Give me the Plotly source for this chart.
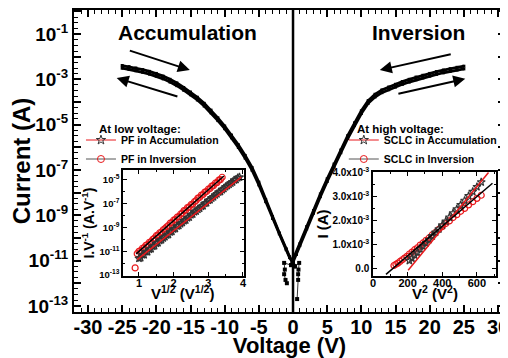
import plotly.graph_objects as go

FONT = "Liberation Sans, Arial, sans-serif"

# ---------------- main I-V data ----------------
v_left = [-25, -24, -23, -22, -21, -20, -19, -18, -17, -16, -15, -14, -13, -12, -11,
          -10, -9, -8, -7, -6, -5, -4, -3, -2, -1, -0.5, 0, 0.3]
i_left_up = [4.07e-3, 3.63e-3, 3.16e-3, 2.69e-3, 2.24e-3, 1.82e-3, 1.38e-3, 1.00e-3,
             6.92e-4, 4.37e-4, 2.75e-4, 1.62e-4, 8.71e-5, 4.37e-5, 2.00e-5, 8.71e-6,
             3.47e-6, 1.29e-6, 4.37e-7, 1.29e-7, 2.88e-8, 5.01e-9, 8.71e-10, 1.66e-10,
             3.31e-11, 1.48e-11, 8.3e-12, 5.6e-12]
i_left_down = [3.09e-3, 2.75e-3, 2.40e-3, 2.04e-3, 1.70e-3, 1.38e-3, 1.05e-3, 7.59e-4,
               5.25e-4, 3.31e-4, 2.09e-4, 1.23e-4, 6.61e-5, 3.31e-5, 1.51e-5, 6.61e-6,
               2.63e-6, 9.77e-7, 3.31e-7, 9.77e-8, 2.19e-8, 3.98e-9, 7.24e-10, 1.51e-10,
               3.02e-11, 1.35e-11, 7.6e-12, 5.2e-12]
v_right = [25, 24, 23, 22, 21, 20, 19, 18, 17, 16, 15, 14, 13, 12, 11,
           10, 9, 8, 7, 6, 5, 4, 3, 2, 1, 0.5, 0, -0.3]
i_right_up = [3.80e-3, 3.39e-3, 2.95e-3, 2.57e-3, 2.19e-3, 1.82e-3, 1.51e-3, 1.26e-3,
              1.00e-3, 7.94e-4, 6.03e-4, 4.57e-4, 3.39e-4, 2.19e-4, 1.15e-4, 4.07e-5,
              1.20e-5, 3.24e-6, 7.59e-7, 1.82e-7, 4.07e-8, 8.71e-9, 1.62e-9, 3.16e-10,
              5.5e-11, 2.14e-11, 9.3e-12, 6.6e-12]
i_right_down = [2.88e-3, 2.57e-3, 2.24e-3, 1.95e-3, 1.66e-3, 1.38e-3, 1.15e-3, 9.55e-4,
                7.59e-4, 6.03e-4, 4.57e-4, 3.47e-4, 2.57e-4, 1.66e-4, 8.71e-5, 3.09e-5,
                9.12e-6, 2.45e-6, 5.75e-7, 1.38e-7, 3.09e-8, 6.61e-9, 1.23e-9, 2.51e-10,
                4.57e-11, 1.86e-11, 8.5e-12, 6.0e-12]
v_tail_a = [0.3, 0.9, 0.8, 0.75, 0.75, 0.6]
i_tail_a = [5.6e-12, 7.9e-12, 4.0e-12, 2.5e-12, 1.4e-12, 2.0e-13]
v_tail_b = [-0.3, -1.3, -1.2, -1.3, -1.1, -0.9]
i_tail_b = [6.3e-12, 7.9e-12, 4.0e-12, 2.5e-12, 1.4e-12, 1.0e-12]

# ---------------- inset 1: Poole-Frenkel (I/V vs V^1/2) ----------------
pf_acc_x = [1.0, 1.1, 1.2, 1.3, 1.4, 1.5, 1.6, 1.7, 1.8, 1.9, 2.0, 2.1, 2.2, 2.3, 2.4,
            2.5, 2.6, 2.7, 2.8, 2.9, 3.0, 3.1, 3.2, 3.3, 3.4, 3.5, 3.6, 3.7, 3.8, 3.9]
pf_acc_y = [2.5e-12, 5.0e-12, 8.9e-12, 1.4e-11, 2.5e-11, 4.5e-11, 7.9e-11, 1.26e-10,
            2.24e-10, 3.98e-10, 7.08e-10, 1.26e-9, 2.0e-9, 3.55e-9, 6.31e-9, 1.12e-8,
            2.0e-8, 3.16e-8, 5.62e-8, 1.0e-7, 1.78e-7, 2.82e-7, 5.01e-7, 8.91e-7,
            1.41e-6, 2.51e-6, 3.98e-6, 6.31e-6, 1.0e-5, 1.58e-5]
pf_acc_x2 = [1.05, 1.15, 1.25, 1.35, 1.45, 1.55, 1.65, 1.75, 1.85, 1.95, 2.05, 2.15, 2.25,
             2.35, 2.45, 2.55, 2.65, 2.75, 2.85, 2.95, 3.05, 3.15, 3.25, 3.35, 3.45, 3.55,
             3.65, 3.75, 3.85]
pf_acc_y2 = [2.8e-12, 5.0e-12, 8.9e-12, 1.6e-11, 2.8e-11, 5.0e-11, 8.9e-11, 1.6e-10,
             2.5e-10, 4.5e-10, 7.9e-10, 1.4e-9, 2.5e-9, 4.0e-9, 7.1e-9, 1.26e-8, 2.24e-8,
             3.98e-8, 6.3e-8, 1.12e-7, 2.0e-7, 3.55e-7, 6.3e-7, 1.0e-6, 1.78e-6, 3.16e-6,
             5.0e-6, 8.9e-6, 1.41e-5]
pf_inv_x = [0.89, 0.95, 1.0, 1.1, 1.2, 1.3, 1.4, 1.5, 1.6, 1.7, 1.8, 1.9, 2.0, 2.1,
            2.2, 2.3, 2.4, 2.5, 2.6, 2.7, 2.8, 2.9, 3.0, 3.1, 3.2, 3.3, 3.4]
pf_inv_y = [4.0e-13, 6.3e-12, 1.0e-11, 1.78e-11, 3.16e-11, 5.62e-11, 1.0e-10, 2.0e-10,
            3.55e-10, 6.31e-10, 1.12e-9, 2.24e-9, 3.98e-9, 7.08e-9, 1.26e-8, 2.51e-8,
            4.47e-8, 7.94e-8, 1.41e-7, 2.82e-7, 5.01e-7, 8.91e-7, 1.58e-6, 2.82e-6,
            5.01e-6, 8.91e-6, 1.58e-5]
pf_inv_x2 = [1.05, 1.15, 1.25, 1.35, 1.45, 1.55, 1.65, 1.75, 1.85, 1.95, 2.05, 2.15, 2.25,
             2.35, 2.45, 2.55, 2.65, 2.75, 2.85, 2.95, 3.05, 3.15, 3.25, 3.35]
pf_inv_y2 = [1.12e-11, 2.0e-11, 3.55e-11, 6.3e-11, 1.26e-10, 2.24e-10, 3.98e-10, 7.9e-10,
             1.41e-9, 2.5e-9, 4.5e-9, 7.9e-9, 1.58e-8, 2.8e-8, 5.0e-8, 8.9e-8, 1.78e-7,
             3.16e-7, 5.6e-7, 1.0e-6, 1.78e-6, 3.16e-6, 5.6e-6, 1.0e-5]
pf_acc_fit_x = [0.95, 3.95]
pf_acc_fit_y = [2.0e-12, 1.6e-5]
pf_inv_fit_x = [0.92, 3.45]
pf_inv_fit_y = [6.0e-12, 2.0e-5]

# ---------------- inset 2: SCLC (I vs V^2) ----------------
sclc_acc_x = [225, 256, 289, 324, 361, 400, 441, 484, 529, 576, 625]
sclc_acc_y = [0.42e-3, 0.66e-3, 0.92e-3, 1.2e-3, 1.5e-3, 1.8e-3, 2.13e-3, 2.47e-3,
              2.83e-3, 3.2e-3, 3.6e-3]
sclc_acc_x2 = [210.25, 240.25, 272.25, 306.25, 342.25, 380.25, 420.25, 462.25, 506.25,
               552.25, 600.25]
sclc_acc_y2 = [0.32e-3, 0.55e-3, 0.8e-3, 1.06e-3, 1.35e-3, 1.64e-3, 1.96e-3, 2.3e-3,
               2.65e-3, 3.02e-3, 3.4e-3]
sclc_inv_x = [121, 144, 169, 196, 225, 256, 289, 324, 361, 400, 441, 484, 529, 576, 625]
sclc_inv_y = [0.12e-3, 0.22e-3, 0.36e-3, 0.5e-3, 0.68e-3, 0.86e-3, 1.06e-3, 1.27e-3,
              1.5e-3, 1.74e-3, 1.98e-3, 2.24e-3, 2.5e-3, 2.78e-3, 3.05e-3]
sclc_inv_x2 = [132.25, 156.25, 182.25, 210.25, 240.25, 272.25, 306.25, 342.25, 380.25,
               420.25, 462.25, 506.25, 552.25, 600.25]
sclc_inv_y2 = [0.17e-3, 0.29e-3, 0.43e-3, 0.6e-3, 0.78e-3, 0.97e-3, 1.17e-3, 1.4e-3,
               1.63e-3, 1.87e-3, 2.12e-3, 2.38e-3, 2.65e-3, 2.92e-3]
sclc_acc_fit_x = [203, 667]
sclc_acc_fit_y = [-0.08e-3, 4.0e-3]
sclc_inv_fit_x = [75, 690]
sclc_inv_fit_y = [-0.25e-3, 3.55e-3]

# ---------------- tick labels ----------------
x_tickvals = [-30, -25, -20, -15, -10, -5, 0, 5, 10, 15, 20, 25, 30]
x_ticktext = ["-30", "-25", "-20", "-15", "-10", "-5", "0", "5", "10", "15", "20", "25", "30"]
y_exps = list(range(-13, 1))
y_ticktext = [("10<sup>%d</sup>" % e) if e % 2 else "" for e in y_exps]
in1_x_ticks = [1, 2, 3, 4]
in1_y_exps = [-13, -11, -9, -7, -5]
in2_x_ticks = [0, 200, 400, 600]
in2_y_ticks = [0, 1e-3, 2e-3, 3e-3, 4e-3]
in2_y_text = ["0.0", "1.0x10<sup>-3</sup>", "2.0x10<sup>-3</sup>", "3.0x10<sup>-3</sup>",
              "4.0x10<sup>-3</sup>"]

RED = "#e8191c"
DARK = "#333333"

fig = go.Figure()
mk = dict(symbol="square", size=3, color="black")
for vx, iy in [(v_left, i_left_up), (v_left, i_left_down),
               (v_right, i_right_up), (v_right, i_right_down)]:
    fig.add_trace(go.Scatter(x=vx, y=iy, mode="lines+markers", marker=mk,
                             line=dict(color="black", width=2.8), showlegend=False))
for vx, iy in [(v_tail_a, i_tail_a), (v_tail_b, i_tail_b)]:
    fig.add_trace(go.Scatter(x=vx, y=iy, mode="lines+markers",
                             marker=dict(symbol="square", size=4, color="black"),
                             line=dict(color="black", width=0.8), showlegend=False))

circ = dict(symbol="circle-open", size=6, color=RED, line=dict(width=1.2))
star = dict(symbol="star-open", size=6, color=DARK, line=dict(width=1.2))

# inset 1
for xs, ys in [(pf_inv_x, pf_inv_y), (pf_inv_x2, pf_inv_y2)]:
    fig.add_trace(go.Scatter(x=xs, y=ys, mode="markers", xaxis="x2", yaxis="y2",
                             marker=circ, showlegend=False))
for xs, ys in [(pf_acc_x, pf_acc_y), (pf_acc_x2, pf_acc_y2)]:
    fig.add_trace(go.Scatter(x=xs, y=ys, mode="markers", xaxis="x2", yaxis="y2",
                             marker=star, showlegend=False))
fig.add_trace(go.Scatter(x=pf_acc_fit_x, y=pf_acc_fit_y, mode="lines", xaxis="x2", yaxis="y2",
                         line=dict(color=RED, width=1.5), showlegend=False))
fig.add_trace(go.Scatter(x=pf_inv_fit_x, y=pf_inv_fit_y, mode="lines", xaxis="x2", yaxis="y2",
                         line=dict(color="black", width=1.5), showlegend=False))
fig.add_trace(go.Scatter(x=[None], y=[None], mode="lines+markers", name="PF in Accumulation",
                         xaxis="x2", yaxis="y2", legend="legend",
                         line=dict(color=RED, width=1),
                         marker=dict(symbol="star-open", size=7, color=DARK)))
fig.add_trace(go.Scatter(x=[None], y=[None], mode="lines+markers", name="PF in Inversion",
                         xaxis="x2", yaxis="y2", legend="legend",
                         line=dict(color="#555555", width=1),
                         marker=dict(symbol="circle-open", size=7, color=RED)))

# inset 2
for xs, ys in [(sclc_inv_x, sclc_inv_y), (sclc_inv_x2, sclc_inv_y2)]:
    fig.add_trace(go.Scatter(x=xs, y=ys, mode="markers", xaxis="x3", yaxis="y3",
                             marker=circ, showlegend=False))
for xs, ys in [(sclc_acc_x, sclc_acc_y), (sclc_acc_x2, sclc_acc_y2)]:
    fig.add_trace(go.Scatter(x=xs, y=ys, mode="markers", xaxis="x3", yaxis="y3",
                             marker=star, showlegend=False))
fig.add_trace(go.Scatter(x=sclc_acc_fit_x, y=sclc_acc_fit_y, mode="lines", xaxis="x3", yaxis="y3",
                         line=dict(color=RED, width=1.5), showlegend=False))
fig.add_trace(go.Scatter(x=sclc_inv_fit_x, y=sclc_inv_fit_y, mode="lines", xaxis="x3", yaxis="y3",
                         line=dict(color="black", width=1.5), showlegend=False))
fig.add_trace(go.Scatter(x=[None], y=[None], mode="lines+markers", name="SCLC in Accumulation",
                         xaxis="x3", yaxis="y3", legend="legend2",
                         line=dict(color=RED, width=1),
                         marker=dict(symbol="star-open", size=7, color=DARK)))
fig.add_trace(go.Scatter(x=[None], y=[None], mode="lines+markers", name="SCLC in Inversion",
                         xaxis="x3", yaxis="y3", legend="legend2",
                         line=dict(color="#555555", width=1),
                         marker=dict(symbol="circle-open", size=7, color=RED)))

fig.add_vline(x=0, line=dict(color="black", width=2.5))

def bfont(size):
    return dict(family=FONT, size=size, color="black", weight="bold")

main_common = dict(showline=True, linewidth=2, linecolor="black", mirror="ticks",
                   ticks="inside", tickwidth=1.5, tickcolor="black", showgrid=False,
                   zeroline=False, automargin=False)
inset_common = dict(showline=True, linewidth=1.5, linecolor="black", mirror="ticks",
                    ticks="inside", ticklen=4, tickwidth=1, tickcolor="black",
                    showgrid=False, zeroline=False, automargin=False)

y_minor = [10 ** (e + k / 4) for e in range(-14, 1) for k in (1, 2, 3)]
in1_y_minor = [10.0 ** e for e in range(-13, -3)]

arrow = dict(xref="x", yref="y", axref="x", ayref="y", text="", showarrow=True,
             arrowhead=2, arrowsize=1.2, arrowwidth=2, arrowcolor="black")

# the page body adds an 8 px offset, so the figure is 8 px smaller on each axis
fig.update_layout(
    width=500, height=350,
    margin=dict(l=66, r=3, t=2, b=46),
    paper_bgcolor="white", plot_bgcolor="white",
    font=dict(family=FONT, color="black"),
    xaxis=dict(domain=[0, 1], range=[-32.05, 31.02], tickmode="array",
               tickvals=x_tickvals, ticktext=x_ticktext, ticklen=7,
               minor=dict(dtick=1, ticklen=4, tickwidth=1.2, ticks="inside"),
               tickfont=bfont(20), ticklabelstandoff=-4, ticklabeloverflow="allow",
               title=dict(text="Voltage (V)", font=bfont(22), standoff=0),
               **main_common),
    yaxis=dict(domain=[0, 1], type="log", range=[-13.27, 0.06], tickmode="array",
               tickvals=[10.0 ** e for e in y_exps], ticktext=y_ticktext, ticklen=7,
               minor=dict(tickmode="array", tickvals=y_minor, ticklen=3.5, tickwidth=1.2,
                          ticks="inside"),
               tickfont=bfont(19), ticklabeloverflow="allow",
               title=dict(text="Current (A)", font=bfont(24), standoff=0),
               **main_common),
    xaxis2=dict(domain=[0.1137, 0.3944], anchor="y2", range=[0.54, 4.03], tickmode="array",
                tickvals=in1_x_ticks, minor=dict(dtick=0.5, ticklen=2.5, ticks="inside"),
                tickfont=bfont(11), ticklabelstandoff=-4, **inset_common),
    yaxis2=dict(domain=[0.119, 0.470], anchor="x2", type="log", range=[-13.08, -4.2],
                tickmode="array", tickvals=[10.0 ** e for e in in1_y_exps],
                ticktext=["10<sup>%d</sup>" % e for e in in1_y_exps],
                minor=dict(tickmode="array", tickvals=in1_y_minor, ticklen=2.5, ticks="inside"),
                tickfont=bfont(9.5),
                title=dict(text="I.V<sup>-1</sup> (A.V<sup>-1</sup>)", font=bfont(14), standoff=1),
                **inset_common),
    xaxis3=dict(domain=[0.6937, 0.979], anchor="y3", range=[0, 710], tickmode="array",
                tickvals=in2_x_ticks, minor=dict(dtick=100, ticklen=2.5, ticks="inside"),
                tickfont=bfont(11), ticklabelstandoff=-4, **inset_common),
    yaxis3=dict(domain=[0.119, 0.4636], anchor="x3", range=[-0.32e-3, 4.02e-3],
                tickmode="array", tickvals=in2_y_ticks, ticktext=in2_y_text,
                minor=dict(dtick=0.5e-3, ticklen=2.5, ticks="inside"),
                tickfont=bfont(10),
                title=dict(text="I (A)", font=bfont(15), standoff=0),
                **inset_common),
    legend=dict(x=0.0162, y=0.6175, xanchor="left", yanchor="top", bgcolor="rgba(0,0,0,0)",
                font=bfont(10.5), tracegroupgap=0, itemwidth=30),
    legend2=dict(x=0.626, y=0.6175, xanchor="left", yanchor="top", bgcolor="rgba(0,0,0,0)",
                 font=bfont(10.5), tracegroupgap=0, itemwidth=30),
    annotations=[
        dict(text="Accumulation", x=0.2645, y=0.924, xref="paper", yref="paper",
             xanchor="center", yanchor="middle", showarrow=False, font=bfont(21)),
        dict(text="Inversion", x=0.80, y=0.924, xref="paper", yref="paper",
             xanchor="center", yanchor="middle", showarrow=False, font=bfont(21)),
        dict(text="At low voltage:", x=0.0534, y=0.606, xref="paper", yref="paper",
             xanchor="left", yanchor="middle", showarrow=False, font=bfont(11.5)),
        dict(text="At high voltage:", x=0.652, y=0.606, xref="paper", yref="paper",
             xanchor="left", yanchor="middle", showarrow=False, font=bfont(11.5)),
        dict(text="V<sup>1/2</sup> (V<sup>1/2</sup>)", x=0.2506, y=0.063, xref="paper",
             yref="paper", xanchor="center", yanchor="middle", showarrow=False, font=bfont(15)),
        dict(text="V<sup>2</sup> (V<sup>2</sup>)", x=0.8376, y=0.063, xref="paper",
             yref="paper", xanchor="center", yanchor="middle", showarrow=False, font=bfont(15)),
        dict(x=-15.1, y=-2.59, ax=-24.1, ay=-1.71, **arrow),
        dict(x=-25.8, y=-2.94, ax=-16.7, ay=-3.78, **arrow),
        dict(x=12.7, y=-2.59, ax=23.3, ay=-1.88, **arrow),
        dict(x=25.2, y=-2.98, ax=15.2, ay=-3.65, **arrow),
    ],
)

fig.write_html("out.html")
